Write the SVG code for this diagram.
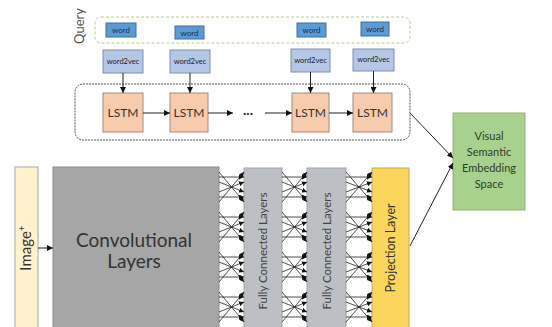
<svg xmlns="http://www.w3.org/2000/svg" xmlns:xlink="http://www.w3.org/1999/xlink" width="552" height="327" viewBox="0 0 552 327">
  <style>
    text { font-family: Lato, "Open Sans", "Liberation Sans", sans-serif; }
    .word { fill: #5b9bd5; stroke: #41719c; stroke-width: 1; }
    .word-t { font-size: 8px; fill: #1f2d3d; text-anchor: middle; }
    .w2v { fill: #b4c7e7; stroke: #7f8fa9; stroke-width: 1; }
    .w2v-t { font-size: 7.5px; fill: #222; text-anchor: middle; }
    .lstm { fill: #f8cbad; stroke: #9c8c80; stroke-width: 1; }
    .lstm-t { font-size: 12px; fill: #333; text-anchor: middle; }
    .fc { fill: #bcbfc4; stroke: #a0a3a8; stroke-width: 1; }
    .fc-t { font-size: 11.5px; fill: #444; text-anchor: middle; }
    .edge { stroke: #222; stroke-width: 1; fill: none; marker-end: url(#arrow); }
    .mesh { stroke: #222; stroke-width: 0.8; fill: none; marker-end: url(#arrow-s); }
  </style>
  <defs>
    <marker id="arrow" viewBox="0 0 10 10" refX="10" refY="5" markerWidth="6" markerHeight="6" markerUnits="userSpaceOnUse" orient="auto">
      <path d="M0,0 L10,5 L0,10 z" fill="#111"/>
    </marker>
    <marker id="arrow-s" viewBox="0 0 10 10" refX="10" refY="5" markerWidth="5" markerHeight="5" markerUnits="userSpaceOnUse" orient="auto">
      <path d="M0,0 L10,5 L0,10 z" fill="#111"/>
    </marker>
    <!-- one gap of dense fully-connected links, 25px wide -->
    <g id="mesh-col">
      <line class="mesh" x1="0" y1="172" x2="25" y2="202"/>
      <line class="mesh" x1="0" y1="202" x2="25" y2="172"/>
      <line class="mesh" x1="0" y1="182" x2="25" y2="192"/>
      <line class="mesh" x1="0" y1="192" x2="25" y2="182"/>
      <line class="mesh" x1="0" y1="177" x2="25" y2="177"/>
      <line class="mesh" x1="0" y1="197" x2="25" y2="197"/>
      <line class="mesh" x1="0" y1="212" x2="25" y2="242"/>
      <line class="mesh" x1="0" y1="242" x2="25" y2="212"/>
      <line class="mesh" x1="0" y1="222" x2="25" y2="232"/>
      <line class="mesh" x1="0" y1="232" x2="25" y2="222"/>
      <line class="mesh" x1="0" y1="217" x2="25" y2="217"/>
      <line class="mesh" x1="0" y1="237" x2="25" y2="237"/>
      <line class="mesh" x1="0" y1="252" x2="25" y2="282"/>
      <line class="mesh" x1="0" y1="282" x2="25" y2="252"/>
      <line class="mesh" x1="0" y1="262" x2="25" y2="272"/>
      <line class="mesh" x1="0" y1="272" x2="25" y2="262"/>
      <line class="mesh" x1="0" y1="257" x2="25" y2="257"/>
      <line class="mesh" x1="0" y1="277" x2="25" y2="277"/>
      <line class="mesh" x1="0" y1="292" x2="25" y2="322"/>
      <line class="mesh" x1="0" y1="322" x2="25" y2="292"/>
      <line class="mesh" x1="0" y1="302" x2="25" y2="312"/>
      <line class="mesh" x1="0" y1="312" x2="25" y2="302"/>
      <line class="mesh" x1="0" y1="297" x2="25" y2="297"/>
      <line class="mesh" x1="0" y1="317" x2="25" y2="317"/>
    </g>
  </defs>

  <rect width="552" height="327" fill="#ffffff"/>

  <!-- query group -->
  <g id="query">
    <text transform="translate(84,26) rotate(-90)" font-size="13" fill="#555" text-anchor="middle">Query</text>
    <rect x="95" y="17" width="315" height="26" rx="6" fill="none" stroke="#b5cf8f" stroke-width="1" stroke-dasharray="3,2"/>
  </g>
  <g id="word1"><rect class="word" x="106" y="23" width="30" height="14"/><text class="word-t" x="121" y="33">word</text></g>
  <g id="word2"><rect class="word" x="175" y="26" width="29" height="13"/><text class="word-t" x="189.5" y="35.5">word</text></g>
  <g id="word3"><rect class="word" x="297" y="23" width="29" height="14"/><text class="word-t" x="311.5" y="33">word</text></g>
  <g id="word4"><rect class="word" x="361" y="22" width="28" height="14"/><text class="word-t" x="375" y="32">word</text></g>

  <g id="w2v1"><rect class="w2v" x="103" y="50" width="40" height="23"/><text class="w2v-t" x="123" y="64">word2vec</text></g>
  <g id="w2v2"><rect class="w2v" x="170" y="50" width="40" height="23"/><text class="w2v-t" x="190" y="64">word2vec</text></g>
  <g id="w2v3"><rect class="w2v" x="291" y="49" width="39" height="23"/><text class="w2v-t" x="310.5" y="63">word2vec</text></g>
  <g id="w2v4"><rect class="w2v" x="353" y="49" width="41" height="22"/><text class="w2v-t" x="373.5" y="62">word2vec</text></g>

  <!-- recurrent block -->
  <g id="lstm-block">
    <rect x="75" y="84" width="335" height="56" rx="8" fill="none" stroke="#555" stroke-width="1" stroke-dasharray="2,1"/>
    <text x="248" y="117" font-size="12" fill="#333" text-anchor="middle" font-weight="bold">···</text>
  </g>
  <g id="lstm1"><rect class="lstm" x="103" y="93" width="40" height="39"/><text class="lstm-t" x="123" y="117">LSTM</text></g>
  <g id="lstm2"><rect class="lstm" x="170" y="93" width="38" height="39"/><text class="lstm-t" x="189" y="117">LSTM</text></g>
  <g id="lstm3"><rect class="lstm" x="292" y="93" width="37" height="39"/><text class="lstm-t" x="310.5" y="117">LSTM</text></g>
  <g id="lstm4"><rect class="lstm" x="353" y="93" width="39" height="39"/><text class="lstm-t" x="372.5" y="117">LSTM</text></g>

  <!-- embedding space -->
  <g id="embedding">
    <rect x="453" y="113" width="72" height="97" fill="#a9d18e" stroke="#8fb179" stroke-width="1"/>
    <text x="489" y="140" font-size="11" fill="#2f3d26" text-anchor="middle">Visual</text>
    <text x="489" y="156" font-size="11" fill="#2f3d26" text-anchor="middle">Semantic</text>
    <text x="489" y="172" font-size="11" fill="#2f3d26" text-anchor="middle">Embedding</text>
    <text x="489" y="188" font-size="11" fill="#2f3d26" text-anchor="middle">Space</text>
  </g>

  <!-- image pipeline -->
  <g id="image">
    <rect x="15" y="167" width="23" height="165" fill="#fff2cc" stroke="#a9a59a" stroke-width="1"/>
    <text transform="translate(31,248) rotate(-90)" font-size="15" fill="#333" text-anchor="middle">Image<tspan font-size="10" dy="-6">+</tspan></text>
  </g>
  <g id="conv">
    <rect x="53" y="167" width="166" height="165" fill="#a6a6a6" stroke="#8c8c8c" stroke-width="1"/>
    <text x="134" y="247" font-size="19" fill="#333" text-anchor="middle">Convolutional</text>
    <text x="134" y="268" font-size="19" fill="#333" text-anchor="middle">Layers</text>
  </g>
  <g id="fc1">
    <rect class="fc" x="244" y="168" width="38" height="164"/>
    <text class="fc-t" transform="translate(267,251) rotate(-90)">Fully Connected Layers</text>
  </g>
  <g id="fc2">
    <rect class="fc" x="307" y="168" width="39" height="164"/>
    <text class="fc-t" transform="translate(330.5,251) rotate(-90)">Fully Connected Layers</text>
  </g>
  <g id="projection">
    <rect x="372" y="168" width="37" height="164" fill="#fcd55c" stroke="#c9a84a" stroke-width="1"/>
    <text transform="translate(395,248) rotate(-90)" font-size="12.5" fill="#333" text-anchor="middle">Projection  Layer</text>
  </g>

  <!-- connectors -->
  <g id="connectors">
    <line class="edge" x1="123" y1="73" x2="123" y2="93"/>
    <line class="edge" x1="190" y1="73" x2="190" y2="93"/>
    <line class="edge" x1="310.5" y1="72" x2="310.5" y2="93"/>
    <line class="edge" x1="373.5" y1="71" x2="373.5" y2="93"/>
    <line class="edge" x1="143" y1="113" x2="170" y2="113"/>
    <line class="edge" x1="208" y1="113" x2="233" y2="113"/>
    <line class="edge" x1="265" y1="113" x2="292" y2="113"/>
    <line class="edge" x1="329" y1="113" x2="353" y2="113"/>
    <line class="edge" x1="410" y1="113" x2="453" y2="158"/>
    <line class="edge" x1="410" y1="246" x2="453" y2="163"/>
    <line class="edge" x1="38" y1="248" x2="53" y2="248"/>
    <use xlink:href="#mesh-col" transform="translate(219,0)"/>
    <use xlink:href="#mesh-col" transform="translate(282,0)"/>
    <use xlink:href="#mesh-col" transform="translate(346,0) scale(1.04,1)"/>
  </g>
</svg>
